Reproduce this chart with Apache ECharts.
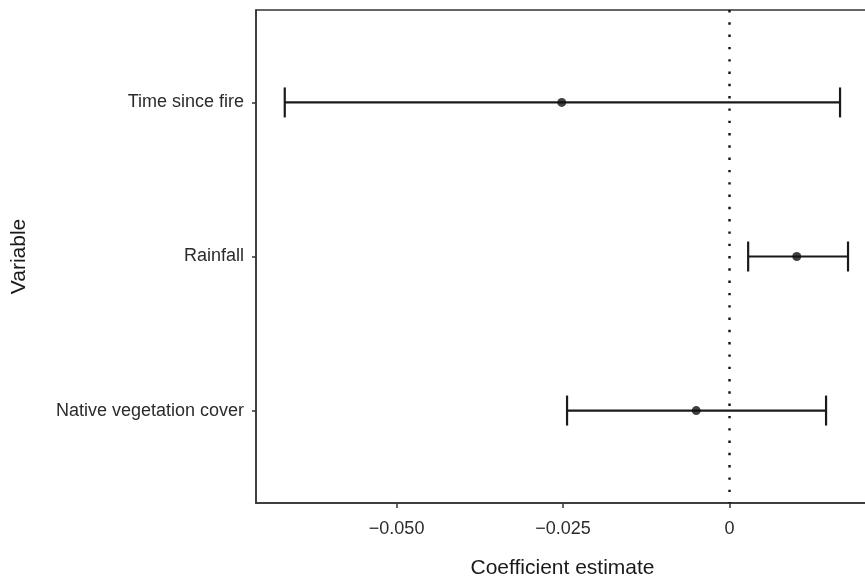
<!DOCTYPE html>
<html>
<head>
<meta charset="utf-8">
<script src="https://cdn.jsdelivr.net/npm/echarts@6/dist/echarts.min.js"></script>
<style>
  html, body { margin: 0; padding: 0; background: #fff; }
  #root { width: 865px; height: 579px; }
</style>
</head>
<body>
<div id="root"></div>
<script>
// data
const variables = ['Time since fire', 'Rainfall', 'Native vegetation cover']
const estimates = [-0.0252, 0.0101, -0.0050]
const lowerCI = [-0.0668, 0.0028, -0.0244]
const upperCI = [0.0166, 0.0178, 0.0145]
const xTicks = [-0.05, -0.025, 0]
const refLine = [0]

const fmtTick = v => v === 0 ? '0' : v.toFixed(3).replace('-', '\u2212')

const chart = echarts.init(document.getElementById('root'))

const bars = variables.map((name, i) => [lowerCI[i], upperCI[i], i + 1])
const points = variables.map((name, i) => [estimates[i], i + 1])

const option = {
  animation: false,
  textStyle: { fontFamily: 'Liberation Sans, Arial, sans-serif' },
  grid: {
    left: 256, top: 10, right: -4, bottom: 76,
    outerBoundsMode: 'none',
    containLabel: false,
    show: true, borderColor: '#333', borderWidth: 1.5, backgroundColor: '#fff'
  },
  xAxis: {
    type: 'value',
    min: -0.07112,
    max: 0.02095,
    name: 'Coefficient estimate',
    nameLocation: 'middle',
    nameGap: 55,
    nameTextStyle: { fontSize: 21, color: '#1a1a1a' },
    axisLine: { show: true, onZero: false, lineStyle: { color: '#333', width: 1.5 } },
    axisTick: { show: true, length: 5, customValues: xTicks, lineStyle: { color: '#333', width: 1.5 } },
    axisLabel: { customValues: xTicks, formatter: fmtTick, fontSize: 18, color: '#2b2b2b', margin: 17 },
    splitLine: { show: false }
  },
  yAxis: {
    type: 'value',
    inverse: true,
    min: 0.4,
    max: 3.6,
    name: 'Variable',
    nameLocation: 'middle',
    nameGap: 226,
    nameTextStyle: { fontSize: 21, color: '#1a1a1a' },
    axisLine: { show: true, onZero: false, lineStyle: { color: '#333', width: 1.5 } },
    axisTick: { show: true, length: 4, customValues: [1, 2, 3], lineStyle: { color: '#333', width: 1.5 } },
    axisLabel: {
      customValues: [1, 2, 3],
      formatter: v => variables[Math.round(v) - 1] || '',
      fontSize: 18, color: '#2b2b2b', margin: 12
    },
    splitLine: { show: false }
  },
  series: [
    {
      // dotted reference line at zero
      type: 'custom',
      data: refLine.map(v => [v]),
      renderItem: (params, api) => {
        const x = api.coord([api.value(0), 1])[0]
        const cs = params.coordSys
        return {
          type: 'line',
          shape: { x1: x, y1: cs.y, x2: x, y2: cs.y + cs.height },
          style: { stroke: '#111', lineWidth: 2.4, lineDash: [2.4, 9.9] }
        }
      },
      encode: { x: 0 },
      silent: true,
      z: 2
    },
    {
      type: 'custom',
      data: bars,
      renderItem: (params, api) => {
        const lo = api.coord([api.value(0), api.value(2)])
        const hi = api.coord([api.value(1), api.value(2)])
        const h = 15
        const style = { stroke: '#1a1a1a', lineWidth: 2.2 }
        return {
          type: 'group',
          children: [
            { type: 'line', shape: { x1: lo[0], y1: lo[1], x2: hi[0], y2: hi[1] }, style },
            { type: 'line', shape: { x1: lo[0], y1: lo[1] - h, x2: lo[0], y2: lo[1] + h }, style },
            { type: 'line', shape: { x1: hi[0], y1: hi[1] - h, x2: hi[0], y2: hi[1] + h }, style }
          ]
        }
      },
      encode: { x: [0, 1], y: 2 },
      z: 3
    },
    {
      type: 'scatter',
      data: points,
      symbol: 'circle',
      symbolSize: 9,
      itemStyle: { color: '#111' },
      z: 4
    }
  ]
}

chart.setOption(option)
</script>
</body>
</html>
